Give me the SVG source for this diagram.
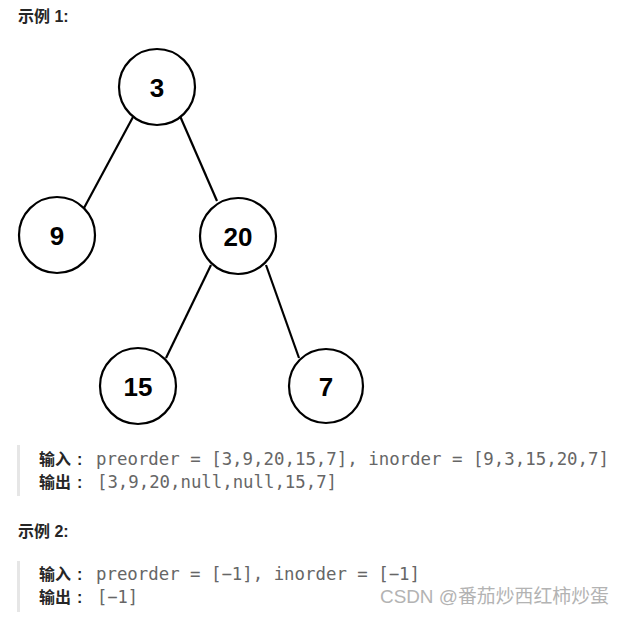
<svg xmlns="http://www.w3.org/2000/svg" width="624" height="617" viewBox="0 0 624 617">
<style>
.node circle{fill:#fff;stroke:#000;stroke-width:2.2}
.node text{font-family:"Liberation Sans",Arial,sans-serif;font-weight:bold;font-size:26px;fill:#000;text-anchor:middle}
.edges line{stroke:#000;stroke-width:2.2}
.h{font-family:"Liberation Sans","Noto Sans CJK SC",sans-serif;font-weight:bold;font-size:16px;fill:#262626}
.lab{font-family:"Liberation Sans","Noto Sans CJK SC",sans-serif;font-weight:bold;font-size:16px;fill:#262626}
.code{font-family:"DejaVu Sans Mono","Liberation Mono",monospace;font-size:17.5px;fill:#666}
.bar{fill:#e6e6e6}
.wm{font-family:"Liberation Sans","Noto Sans CJK SC",sans-serif;font-size:19px;fill:#b3b3b3}
</style>
<rect width="624" height="617" fill="#fff"/>
<text class="h" x="18" y="22">示例 1:</text>
<g class="edges">
<line x1="133" y1="117" x2="84" y2="208"/>
<line x1="180" y1="116" x2="217" y2="201"/>
<line x1="211" y1="265" x2="166" y2="358"/>
<line x1="266" y1="265" x2="299" y2="358"/>
</g>
<g id="n3" class="node"><circle cx="157" cy="87" r="38"/><text x="157" y="97">3</text></g>
<g id="n9" class="node"><circle cx="57" cy="235" r="38"/><text x="57" y="245">9</text></g>
<g id="n20" class="node"><circle cx="238" cy="236" r="38"/><text x="238" y="246">20</text></g>
<g id="n15" class="node"><circle cx="138" cy="386" r="38"/><text x="138" y="396">15</text></g>
<g id="n7" class="node"><circle cx="326" cy="386" r="37"/><text x="326" y="396">7</text></g>
<rect class="bar" x="17" y="445" width="3" height="51"/>
<text class="lab" x="39" y="465">输入<tspan x="77">:</tspan></text>
<text class="code" x="96" y="465" textLength="513" lengthAdjust="spacingAndGlyphs">preorder = [3,9,20,15,7], inorder = [9,3,15,20,7]</text>
<text class="lab" x="39" y="488">输出<tspan x="77">:</tspan></text>
<text class="code" x="97" y="488" textLength="240" lengthAdjust="spacingAndGlyphs">[3,9,20,null,null,15,7]</text>
<text class="h" x="18" y="537">示例 2:</text>
<rect class="bar" x="17" y="561" width="3" height="51"/>
<text class="lab" x="39" y="580">输入<tspan x="77">:</tspan></text>
<text class="code" x="96" y="580" textLength="324" lengthAdjust="spacingAndGlyphs">preorder = [−1], inorder = [−1]</text>
<text class="lab" x="39" y="603">输出<tspan x="77">:</tspan></text>
<text class="code" x="97" y="603" textLength="41" lengthAdjust="spacingAndGlyphs">[−1]</text>
<text class="wm" x="380" y="603" textLength="229" lengthAdjust="spacingAndGlyphs">CSDN @番茄炒西红柿炒蛋</text>
</svg>
